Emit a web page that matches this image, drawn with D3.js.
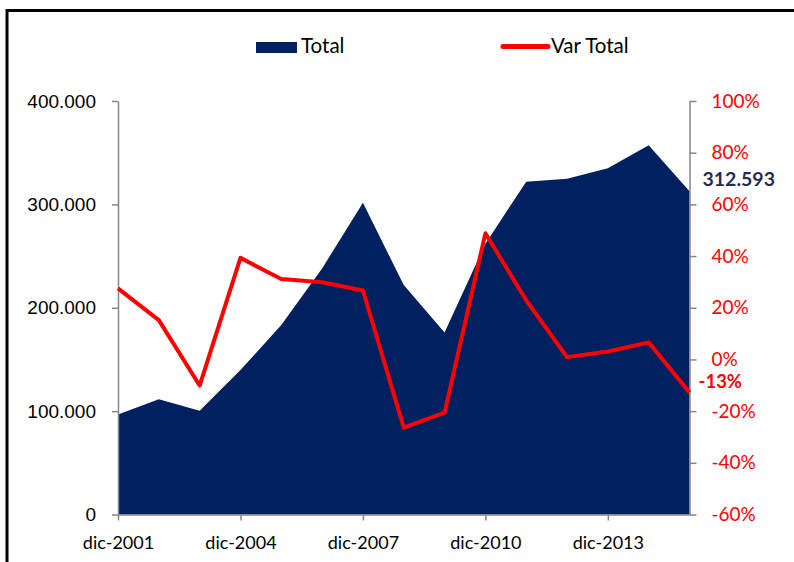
<!DOCTYPE html>
<html>
<head>
<meta charset="utf-8">
<script src="https://cdn.jsdelivr.net/npm/d3@7"></script>
<style>
  html, body { margin: 0; padding: 0; background: #fff; }
  svg { display: block; }
</style>
</head>
<body>
<div id="chart"></div>
<script>
const years = [2001, 2002, 2003, 2004, 2005, 2006, 2007, 2008, 2009, 2010, 2011, 2012, 2013, 2014, 2015];
const totals = [96800, 111600, 100300, 139700, 183200, 238000, 301600, 221900, 176100, 262000, 321900, 324800, 334900, 357100, 312593];
const varTotal = [27.5, 15.2, -10.1, 39.3, 31.1, 29.9, 26.7, -26.4, -20.6, 48.8, 22.9, 0.9, 3.1, 6.6, -12.8];
const leftTicks = [0, 100000, 200000, 300000, 400000];
const rightTicks = [-60, -40, -20, 0, 20, 40, 60, 80, 100];
const xTickYears = [2001, 2004, 2007, 2010, 2013];
const seriesNames = ["Total", "Var Total"];

const COLORS = {
  area: "#002060",
  line: "#ff0000",
  axis: "#868686",
  lastTotal: "#1f2f4f",
};

const CALIBRI = "Lato, 'Open Sans', sans-serif";
const ARIAL = "'Liberation Sans', Arial, sans-serif";

const width = 794;
const height = 562;

const locale = d3.formatLocale({ decimal: ",", thousands: ".", grouping: [3], currency: ["", ""] });
const formatTotal = locale.format(",");

const svg = d3.select("#chart")
  .append("svg")
  .attr("width", width)
  .attr("height", height);

// frame (top + left border only)
svg.append("path")
  .attr("d", `M7,${height + 5}V10.5H${width + 5}`)
  .attr("fill", "none")
  .attr("stroke", "#000")
  .attr("stroke-width", 3);

const x = d3.scaleLinear().domain([2001, 2015]).range([118, 689.5]);
const y = d3.scaleLinear().domain([0, 400000]).range([514.5, 101]);
const yPct = d3.scaleLinear().domain([-60, 100]).range([514.5, 101]);

const rows = years.map((yr, i) => ({ year: yr, total: totals[i], pct: varTotal[i] }));

// area
svg.append("path")
  .datum(rows)
  .attr("fill", COLORS.area)
  .attr("d", d3.area().x((d) => x(d.year)).y0(y(0)).y1((d) => y(d.total)));

// axes
function styleAxis(g, color, font, size) {
  g.select(".domain").attr("stroke", COLORS.axis).attr("stroke-width", 1.5);
  g.selectAll(".tick line").attr("stroke", COLORS.axis).attr("stroke-width", 1.5);
  g.selectAll(".tick text")
    .attr("fill", color)
    .attr("font-family", font)
    .attr("font-size", size);
}

svg.append("g")
  .attr("transform", `translate(${x(2001)},0)`)
  .call(d3.axisLeft(y).tickValues(leftTicks).tickFormat(formatTotal).tickSize(6).tickSizeOuter(0).tickPadding(16))
  .call((g) => styleAxis(g, "#000", ARIAL, 19));

svg.append("g")
  .attr("transform", `translate(${x(2015)},0)`)
  .call(d3.axisRight(yPct).tickValues(rightTicks).tickFormat((d) => d + "%").tickSize(7).tickSizeOuter(0).tickPadding(15))
  .call((g) => styleAxis(g, COLORS.line, CALIBRI, 19));

svg.append("g")
  .attr("transform", `translate(0,${y(0)})`)
  .call(d3.axisBottom(x).tickValues(xTickYears).tickFormat((d) => "dic-" + d).tickSize(6).tickSizeOuter(0).tickPadding(16))
  .call((g) => styleAxis(g, "#000", CALIBRI, 18));

// var line
svg.append("path")
  .datum(rows)
  .attr("fill", "none")
  .attr("stroke", COLORS.line)
  .attr("stroke-width", 4)
  .attr("stroke-linejoin", "round")
  .attr("d", d3.line().x((d) => x(d.year)).y((d) => yPct(d.pct)));

// end labels
const last = rows[rows.length - 1];
svg.append("text")
  .attr("x", x(last.year) + 13)
  .attr("y", y(last.total) - 5)
  .attr("fill", COLORS.lastTotal)
  .attr("font-family", CALIBRI)
  .attr("font-size", 19.5)
  .attr("font-weight", 700)
  .text(formatTotal(last.total));

svg.append("text")
  .attr("x", x(last.year) + 9)
  .attr("y", yPct(last.pct) - 5)
  .attr("fill", COLORS.line)
  .attr("font-family", CALIBRI)
  .attr("font-size", 18.5)
  .attr("font-weight", 700)
  .text(Math.round(last.pct) + "%");

// legend
const legend = svg.append("g").attr("font-family", CALIBRI).attr("font-size", 20.5);
legend.append("rect")
  .attr("x", 256).attr("y", 42).attr("width", 41).attr("height", 11)
  .attr("fill", COLORS.area);
legend.append("text").attr("x", 301).attr("y", 53).text(seriesNames[0]);
legend.append("line")
  .attr("x1", 503).attr("x2", 548).attr("y1", 46.5).attr("y2", 46.5)
  .attr("stroke", COLORS.line).attr("stroke-width", 5).attr("stroke-linecap", "round");
legend.append("text").attr("x", 551).attr("y", 53).text(seriesNames[1]);
</script>
</body>
</html>
